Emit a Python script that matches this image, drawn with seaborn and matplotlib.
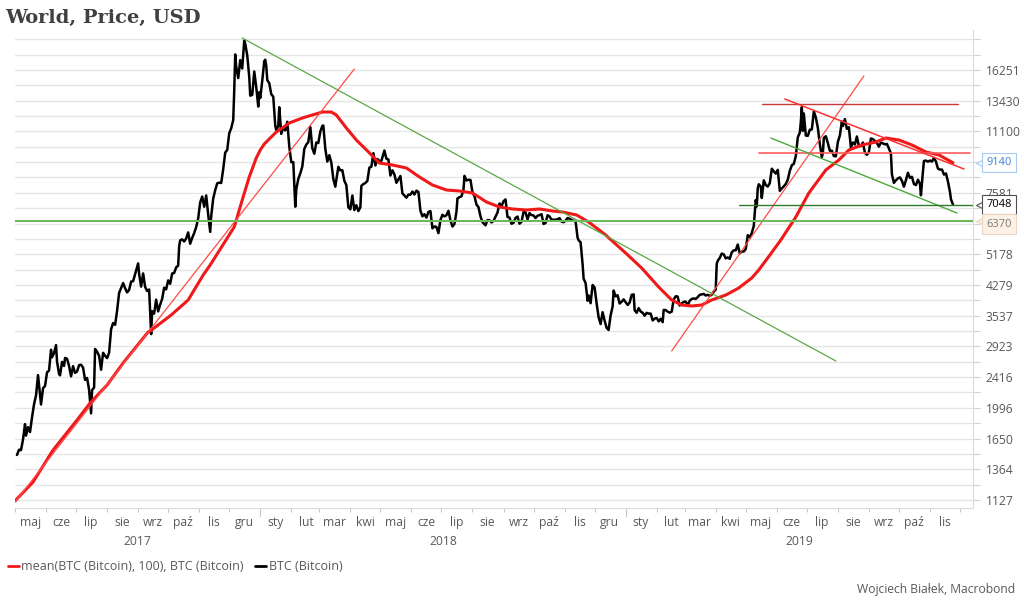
import numpy as np
import pandas as pd
import matplotlib
matplotlib.use("Agg")
import matplotlib.pyplot as plt
import matplotlib.dates as mdates
import matplotlib.transforms as mtrans
from matplotlib.lines import Line2D
from matplotlib.ticker import FixedLocator, NullFormatter, FuncFormatter
import seaborn as sns

# ---------------- data ----------------
btc_2017_dates = ["05-03","05-05","05-07","05-09","05-11","05-12","05-14","05-16","05-18","05-20",
    "05-22","05-24","05-25","05-27","05-29","05-31","06-02","06-04","06-06","06-07","06-09","06-11",
    "06-12","06-14","06-15","06-17","06-19","06-20","06-22","06-24","06-26","06-28","06-30","07-02",
    "07-04","07-06","07-08","07-10","07-12","07-14","07-16","07-17","07-19","07-20","07-22","07-24",
    "07-26","07-28","07-30","08-01","08-03","08-05","08-07","08-09","08-11","08-13","08-15","08-17",
    "08-19","08-21","08-23","08-25","08-27","08-29","09-01","09-02","09-04","09-06","09-08","09-10",
    "09-12","09-14","09-15","09-17","09-19","09-21","09-23","09-25","09-27","09-29","10-01","10-03",
    "10-05","10-07","10-09","10-11","10-12","10-13","10-15","10-17","10-19","10-21","10-23","10-25",
    "10-27","10-29","10-31","11-02","11-04","11-06","11-08","11-10","11-12","11-13","11-15","11-17",
    "11-19","11-21","11-23","11-25","11-27","11-29","12-01","12-03","12-05","12-06","12-07","12-08",
    "12-10","12-12","12-14","12-16","12-17","12-19","12-21","12-22","12-24","12-26","12-28","12-30","12-31"]
btc_2017 = [1490,1539,1535,1640,1804,1680,1771,1718,1880,2040,
    2155,2446,2304,2038,2255,2286,2488,2515,2863,2732,2805,2947,
    2659,2464,2442,2655,2589,2721,2706,2589,2427,2585,2480,2501,
    2601,2608,2562,2374,2403,2233,1929,2228,2264,2876,2828,2757,
    2529,2809,2757,2718,2810,3252,3378,3342,3650,4073,4200,4331,
    4193,4087,4151,4371,4382,4579,4892,4578,4236,4597,4228,4122,
    4161,3154,3637,3582,3907,3632,3787,3926,4208,4164,4403,4310,
    4595,4611,4772,4826,5446,5647,5680,5605,5711,5930,5526,5733,
    5904,6131,6468,7144,7407,6955,7459,6618,5950,6559,7315,7709,
    8042,8077,8059,8790,9733,9889,10975,11323,11916,14291,17899,16570,
    15455,17276,16408,19498,19140,17776,15561,13857,13926,16099,14607,12952,14156]

btc_2018_dates = ["01-01","01-03","01-05","01-06","01-07","01-08","01-10","01-12","01-14","01-16",
    "01-17","01-19","01-20","01-22","01-24","01-26","01-28","01-30","02-01","02-03","02-05","02-06",
    "02-08","02-10","02-12","02-14","02-16","02-18","02-20","02-22","02-24","02-26","02-28","03-02",
    "03-04","03-05","03-07","03-09","03-11","03-13","03-15","03-17","03-18","03-20","03-22","03-24",
    "03-26","03-28","03-30","04-01","04-03","04-05","04-07","04-09","04-11","04-12","04-14","04-16",
    "04-18","04-20","04-22","04-24","04-26","04-28","04-30","05-02","05-05","05-07","05-09","05-11",
    "05-13","05-15","05-17","05-19","05-21","05-23","05-25","05-27","05-29","05-31","06-02","06-04",
    "06-06","06-08","06-10","06-12","06-14","06-16","06-18","06-20","06-22","06-24","06-26","06-28",
    "06-30","07-02","07-04","07-06","07-08","07-10","07-12","07-14","07-16","07-17","07-19","07-21",
    "07-23","07-24","07-26","07-28","07-30","08-01","08-03","08-05","08-07","08-09","08-11","08-13",
    "08-14","08-16","08-18","08-20","08-22","08-24","08-26","08-28","08-30","09-01","09-03","09-05",
    "09-07","09-09","09-11","09-13","09-15","09-17","09-19","09-21","09-23","09-25","09-27","09-29",
    "10-01","10-03","10-05","10-07","10-09","10-11","10-13","10-15","10-17","10-19","10-21","10-23",
    "10-25","10-27","10-29","10-31","11-02","11-04","11-06","11-08","11-10","11-12","11-14","11-15",
    "11-17","11-19","11-20","11-22","11-24","11-25","11-27","11-29","12-01","12-03","12-05","12-07",
    "12-09","12-11","12-13","12-15","12-17","12-19","12-20","12-22","12-24","12-26","12-28","12-30"]
btc_2018 = [13657,15201,17174,17319,16651,15265,14973,13980,13772,11490,
    11188,11474,12899,10931,11359,11171,11786,10106,9170,9174,6955,7754,
    8265,8556,8926,9952,10233,10383,11403,10005,9664,10366,10326,11086,
    11489,11512,9951,9205,9578,9145,8259,7876,8223,8908,8712,8728,
    8168,7954,6929,6844,7456,6812,7022,6771,6929,7917,8004,8058,
    8164,8866,8917,9697,8987,9348,9240,9244,9858,9373,9325,8441,
    8720,8504,8069,8247,8418,7557,7459,7355,7498,7495,7643,7504,
    7685,7624,6786,6553,6637,6500,6735,6769,6083,6153,6135,5903,
    6404,6615,6550,6596,6781,6385,6153,6247,6740,7321,7379,7419,
    7712,8424,8187,8222,8212,7605,7421,7047,6938,6551,6322,6237,
    6199,6402,6396,6309,6372,6543,6710,7096,6979,7193,7279,6529,
    6499,6258,6295,6487,6543,6260,6334,6734,6710,6433,6684,6602,
    6589,6484,6576,6602,6640,6252,6286,6596,6544,6417,6416,6416,
    6434,6480,6343,6318,6377,6485,6456,6405,6372,6359,5738,5648,
    5578,4871,4452,4330,3880,4010,3822,4279,4214,3820,3502,3358,
    3614,3429,3280,3236,3545,3746,4134,3987,4015,3814,3857,3913]

btc_2019_dates = ["01-01","01-03","01-05","01-07","01-09","01-10","01-12","01-14","01-16","01-18",
    "01-20","01-22","01-24","01-26","01-28","01-30","02-01","02-03","02-05","02-07","02-08","02-10",
    "02-12","02-14","02-16","02-18","02-20","02-22","02-24","02-26","02-28","03-02","03-04","03-06",
    "03-08","03-10","03-12","03-14","03-16","03-18","03-20","03-22","03-24","03-26","03-28","03-30",
    "04-01","04-02","04-03","04-05","04-07","04-09","04-11","04-13","04-15","04-17","04-19","04-21",
    "04-23","04-25","04-27","04-29","05-01","05-03","05-05","05-07","05-09","05-11","05-12","05-13",
    "05-14","05-16","05-17","05-19","05-21","05-23","05-25","05-27","05-29","05-31","06-02","06-04",
    "06-06","06-08","06-10","06-12","06-14","06-16","06-18","06-20","06-22","06-24","06-25","06-26",
    "06-27","06-28","06-30","07-02","07-04","07-06","07-08","07-10","07-12","07-14","07-16","07-17",
    "07-18","07-20","07-22","07-24","07-26","07-28","07-30","08-01","08-03","08-05","08-06","08-08",
    "08-10","08-12","08-14","08-16","08-18","08-20","08-22","08-24","08-26","08-28","08-30","09-01",
    "09-03","09-05","09-07","09-09","09-11","09-13","09-15","09-17","09-19","09-21","09-23","09-24",
    "09-26","09-28","09-30","10-02","10-04","10-06","10-08","10-10","10-12","10-14","10-16","10-18",
    "10-20","10-22","10-23","10-25","10-26","10-28","10-30","11-01","11-03","11-05","11-07","11-09",
    "11-11","11-13","11-15","11-17","11-19","11-21","11-22","11-24"]
btc_2019 = [3844,3780,3836,4025,4036,3657,3601,3706,3630,3601,
    3537,3599,3583,3583,3434,3472,3487,3415,3469,3397,3666,3661,
    3627,3604,3626,3911,3989,3983,3766,3817,3854,3859,3768,3879,
    3924,3936,3924,3968,4025,4035,4047,4009,4025,4000,4028,4105,
    4158,4879,4973,5059,5200,5175,5048,5077,5034,5237,5308,5307,
    5500,5210,5268,5268,5350,5830,5757,5903,6174,7250,6971,7814,
    7995,7884,7344,8193,7954,7881,8052,8805,8664,8544,8742,7676,
    7793,7896,8013,8230,8694,8994,9079,9525,10701,11017,11778,12900,
    11133,12405,10817,10801,11215,11237,12567,12099,11354,10257,9471,9693,
    10666,10772,10325,9844,9847,9530,9508,10399,10821,11805,11478,11982,
    11283,11390,10051,10360,10231,10755,10131,10137,10360,9721,9600,9757,
    10624,10578,10470,10327,10099,10360,10306,10242,10275,9987,9686,8500,
    8064,8197,8294,8344,8169,7875,8206,8586,8320,8374,8006,7957,
    8223,8020,7466,8661,9244,9263,9199,9261,9205,9413,9205,8809,
    8757,8762,8491,8549,8128,7625,7280,7048]

mean_dates = ["2017-05-01","2017-05-19","2017-06-08","2017-07-02","2017-07-15","2017-08-01",
    "2017-08-17","2017-09-11","2017-09-14","2017-10-04","2017-10-21","2017-11-05","2017-11-12",
    "2017-11-24","2017-12-06","2017-12-14","2017-12-21","2017-12-28","2018-01-01","2018-01-05",
    "2018-01-10","2018-01-17","2018-01-24",
    "2018-01-30","2018-02-12","2018-02-22","2018-03-04","2018-03-13","2018-03-18","2018-03-28",
    "2018-04-07","2018-04-17","2018-04-30","2018-05-13","2018-05-27","2018-06-09","2018-06-22",
    "2018-07-06","2018-07-19","2018-08-01","2018-08-15","2018-08-28","2018-09-10","2018-09-24",
    "2018-10-07","2018-10-20","2018-10-30","2018-11-13","2018-11-25","2018-12-12","2019-01-01",
    "2019-01-17","2019-02-03","2019-02-16","2019-02-26","2019-03-08","2019-03-18","2019-03-28",
    "2019-04-11","2019-04-24","2019-05-07","2019-05-14","2019-05-25","2019-06-05","2019-06-20",
    "2019-07-03","2019-07-20","2019-08-02","2019-08-12","2019-08-25","2019-09-08","2019-09-18",
    "2019-10-01","2019-10-14","2019-10-28","2019-11-10","2019-11-24"]
mean_100 = [1120,1259,1536,1851,2057,2300,
    2636,3196,3230,3551,3899,4552,4844,
    5451,6133,7251,8365,9410,9890,10265,
    10590,11059,11385,
    11696,12063,12290,12521,12521,12290,11338,
    10524,9900,9124,9012,8846,8365,7960,
    7716,7669,7573,7162,6943,6858,6815,
    6858,6773,6731,6608,6327,5836,5219,
    4755,4226,3899,3779,3756,3779,3899,
    4020,4200,4469,4697,5150,5657,6525,
    7573,8737,9296,9890,10203,10394,10656,
    10524,10203,9769,9588,9140]

# trend lines: (start date, end date) and (start value, end value)
trend_dates = [("2017-12-14", "2019-07-30"), ("2017-05-01", "2018-04-05"),
               ("2019-02-16", "2019-08-27"), ("2019-05-17", "2019-11-29"),
               ("2019-05-14", "2019-12-11"), ("2019-06-09", "2019-12-05"),
               ("2019-05-26", "2019-11-28"), ("2019-04-24", "2019-12-14")]
trend_values = [(19822, 2670), (1112, 16352),
                (2841, 15656), (13159, 13159),
                (9678, 9678), (13574, 8790),
                (10656, 6689), (7048, 7048)]
trend_colors = ["#5aa845", "#ff4a4a", "#ff4a4a", "#c83a3a", "#ff5c5c", "#ff3030", "#4ea83c", "#2f7d2a"]
trend_widths = [0.9, 0.9, 0.9, 1.0, 1.2, 1.1, 1.0, 1.0]
support_level = 6370

y_ticks = [1127, 1364, 1650, 1996, 2416, 2923, 3537, 4279, 5178, 6265, 7581, 9173, 11100, 13430, 16251]
month_names = {1: "sty", 2: "lut", 3: "mar", 4: "kwi", 5: "maj", 6: "cze", 7: "lip",
               8: "sie", 9: "wrz", 10: "paź", 11: "lis", 12: "gru"}
years = ["2017", "2018", "2019"]
last_mean, last_price = 9140, 7048

# ---------------- figure ----------------
sns.set_theme(style="white")
plt.rcParams["font.family"] = ["Open Sans", "DejaVu Sans"]
GREY = "#595959"

fig = plt.figure(figsize=(10.24, 6.08), dpi=100)
ax = fig.add_axes([15 / 1024, 1 - 508 / 608, 958 / 1024, 478 / 608])
ax.set_yscale("log")

btc_df = pd.DataFrame({
    "date": pd.to_datetime(["2017-" + d for d in btc_2017_dates] + ["2018-" + d for d in btc_2018_dates]
                           + ["2019-" + d for d in btc_2019_dates]),
    "price": btc_2017 + btc_2018 + btc_2019})
mean_df = pd.DataFrame({"date": pd.to_datetime(mean_dates), "mean": mean_100})

sns.lineplot(data=btc_df, x="date", y="price", color="black", lw=1.8, ax=ax, zorder=3)
sns.lineplot(data=mean_df, x="date", y="mean", color="#f01818", lw=2.2, ax=ax, zorder=4)

for (d0, d1), (v0, v1), c, w in zip(trend_dates, trend_values, trend_colors, trend_widths):
    sns.lineplot(x=pd.to_datetime([d0, d1]), y=[v0, v1], color=c, lw=w, ax=ax, zorder=5)
ax.axhline(support_level, color="#6cb85a", lw=1.5, zorder=5)

x0, x1 = pd.Timestamp("2017-05-01"), pd.Timestamp("2019-12-14")
ax.set_xlim(x0, x1)
ax.set_ylim(1072, 20830)
ax.set_xlabel("")
ax.set_ylabel("")

# y axis on the right
ax.yaxis.tick_right()
ax.yaxis.set_major_locator(FixedLocator(y_ticks))
ax.yaxis.set_major_formatter(FuncFormatter(lambda v, p: f"{v:.0f}"))
mids = [np.sqrt(a * b) for a, b in zip(y_ticks[:-1], y_ticks[1:])]
mids += [np.sqrt(y_ticks[-1] * y_ticks[-1] * 1.21), y_ticks[-1] * 1.21]
ax.yaxis.set_minor_locator(FixedLocator(mids))
ax.yaxis.set_minor_formatter(NullFormatter())
ax.grid(True, axis="y", which="both", color="#e6e6e6", lw=1.0, zorder=0)
ax.tick_params(axis="y", which="both", right=True, left=False, length=5, width=0.8,
               color="#d0d0d0", pad=4, labelsize=8.7, labelcolor=GREY)

# x axis
ax.xaxis.set_major_locator(mdates.MonthLocator(bymonthday=1))
ax.xaxis.set_major_formatter(NullFormatter())
ax.xaxis.set_minor_locator(mdates.MonthLocator(bymonthday=16))
ax.xaxis.set_minor_formatter(FuncFormatter(lambda v, p: month_names[mdates.num2date(v).month]))
ax.tick_params(axis="x", which="major", bottom=True, length=3, width=0.8, color="#c8c8c8")
ax.tick_params(axis="x", which="minor", bottom=True, length=0, pad=6, labelsize=8.7, labelcolor=GREY)
for yr in ["2018-01-01", "2019-01-01"]:
    ax.plot([pd.Timestamp(yr)] * 2, [0, -0.016], transform=mtrans.blended_transform_factory(ax.transData, ax.transAxes),
            color="#c8c8c8", lw=0.8, clip_on=False)

for s in ["left", "top"]:
    ax.spines[s].set_visible(False)
for s in ["right", "bottom"]:
    ax.spines[s].set_color("#dcdcdc")
    ax.spines[s].set_linewidth(0.8)

blend = mtrans.blended_transform_factory(ax.transData, ax.transAxes)
bounds = [x0, pd.Timestamp("2018-01-01"), pd.Timestamp("2019-01-01"), x1]
for i, yr in enumerate(years):
    xm = bounds[i] + (bounds[i + 1] - bounds[i]) / 2
    ax.text(xm, -0.071, yr, transform=blend, ha="center", va="center", fontsize=8.7, color=GREY)

# value boxes at right
yblend = mtrans.blended_transform_factory(ax.transAxes, ax.transData)
boxes = [(last_mean, last_mean, "#3c7fd8", "white", "#a9c9f2", "normal"),
         (last_price, last_price, "black", "white", "#505050", "normal"),
         (support_level, 6245, "#7a7a7a", "#fdf0e4", "#ead6c4", "normal")]
for val, ypos, tc, fc, ec, fw in boxes:
    ax.plot([1.0085], [val], marker="<", ms=7, mfc=fc, mec=ec, mew=0.8, transform=yblend,
            clip_on=False, zorder=9)
    ax.text(1.0138, ypos, f"{val}", transform=yblend, ha="left", va="center", fontsize=8,
            color=tc, fontweight=fw, zorder=10,
            bbox=dict(boxstyle="square,pad=0.38", fc=fc, ec=ec, lw=0.8))

# title, legend, footer
fig.text(5 / 1024, 1 - 18 / 608, "World, Price, USD", family="DejaVu Serif", fontweight="bold",
         fontsize=14, color="#404040", ha="left", va="center")
handles = [Line2D([], [], color="#f01818", lw=2), Line2D([], [], color="black", lw=2)]
labels = ["mean(BTC (Bitcoin), 100), BTC (Bitcoin)", "BTC (Bitcoin)"]
fig.legend(handles, labels, loc="center left", bbox_to_anchor=(0.0, 1 - 567 / 608), ncol=2,
           frameon=False, handlelength=0.9, handletextpad=0.2, columnspacing=0.9,
           fontsize=9, labelcolor=GREY, borderaxespad=0.2)
fig.text(1015 / 1024, 1 - 590 / 608, "Wojciech Białek, Macrobond", ha="right", va="center",
         fontsize=8.7, color=GREY)

fig.savefig("out.png", dpi=100)
